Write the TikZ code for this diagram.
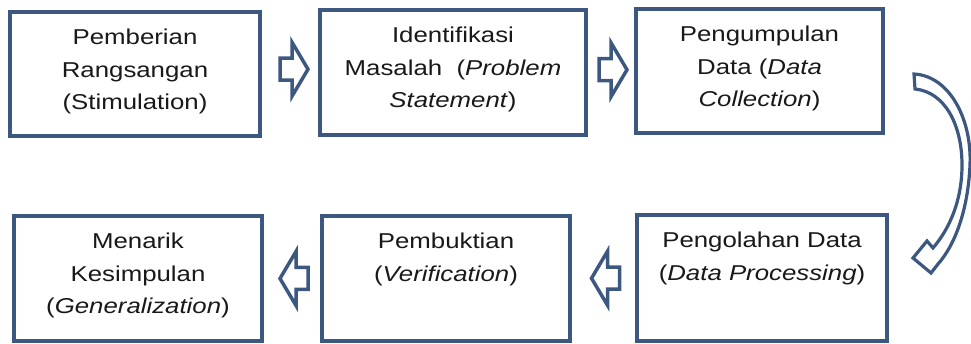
\documentclass[tikz,border=0pt]{standalone}
\usepackage{fontspec}
\setmainfont{Liberation Sans}[FakeStretch=1.2]
\usetikzlibrary{calc}
\definecolor{edge}{RGB}{60,88,128}
\definecolor{ink}{RGB}{25,25,25}
\begin{document}
\begin{tikzpicture}[x=1pt,y=-1pt,
  box/.style={draw=edge,line width=3.5pt,inner sep=0pt,outer sep=0pt,fill=white},
  lbl/.style={anchor=north,inner sep=0pt,align=center,text=ink,font=\fontsize{21.5}{32.5}\selectfont},
  blk/.style={draw=edge,line width=3.5pt,line join=miter,fill=white}]
\useasboundingbox[fill=white] (0,0) rectangle (971,344);
% boxes
\node[box,minimum width=250pt,minimum height=124pt] (b1) at (135,74) {};
\node[box,minimum width=266pt,minimum height=125pt] (b2) at (453,72.5) {};
\node[box,minimum width=247pt,minimum height=124pt] (b3) at (759.5,71) {};
\node[box,minimum width=248pt,minimum height=125pt] (b4) at (138,278.5) {};
\node[box,minimum width=248pt,minimum height=125pt] (b5) at (446,278.5) {};
\node[box,minimum width=250pt,minimum height=126pt] (b6) at (762,278) {};
% texts
\node[lbl] (t1) at ($(b1.north)+(0,17)$) {Pemberian\\Rangsangan\\(Stimulation)};
\node[lbl] (t2) at ($(b2.north)+(0,17)$) {Identifikasi\\Masalah\ \ (\textit{Problem}\\\textit{Statement})};
\node[lbl] (t3) at ($(b3.north)+(0,17)$) {Pengumpulan\\Data (\textit{Data}\\\textit{Collection})};
\node[lbl] (t4) at ($(b4.north)+(0,17)$) {Menarik\\Kesimpulan\\(\textit{Generalization})};
\node[lbl] (t5) at ($(b5.north)+(0,17)$) {Pembuktian\\(\textit{Verification})};
\node[lbl] (t6) at ($(b6.north)+(0,17)$) {Pengolahan Data\\(\textit{Data Processing})};
% block arrows
\coordinate (m12) at ($($(b1.east)!0.5!(b2.west)$)+(4,-4)$);
\coordinate (m23) at ($($(b2.east)!0.5!(b3.west)$)+(2,-2)$);
\coordinate (m54) at ($($(b4.east)!0.5!(b5.west)$)+(2,0)$);
\coordinate (m65) at ($($(b5.east)!0.5!(b6.west)$)+(2,0)$);
\foreach \m in {m12,m23}{
  \draw[blk] ($(\m)+(-14,-11)$) -- ++(12,0) -- ++(0,-16) -- ($(\m)+(14,0)$)
    -- ($(\m)+(-2,27)$) -- ++(0,-16) -- ($(\m)+(-14,11)$) -- cycle;
}
\foreach \m in {m54,m65}{
  \draw[blk] ($(\m)+(14,-11)$) -- ++(-12,0) -- ++(0,-16) -- ($(\m)+(-14,0)$)
    -- ($(\m)+(2,27)$) -- ++(0,-16) -- ($(\m)+(14,11)$) -- cycle;
}
% curved arrow from b3 to b6
\draw[blk,line width=3.2pt] (914,74) .. controls (950,76) and (972,120) .. (970,165)
  .. controls (968,210) and (955,245) .. (938,264)
  -- (931,273) -- (913,258) -- (927,241) -- (933,248)
  .. controls (950,228) and (962,200) .. (962,165)
  .. controls (962,125) and (945,92) .. (915,89) -- cycle;
\end{tikzpicture}
\end{document}
